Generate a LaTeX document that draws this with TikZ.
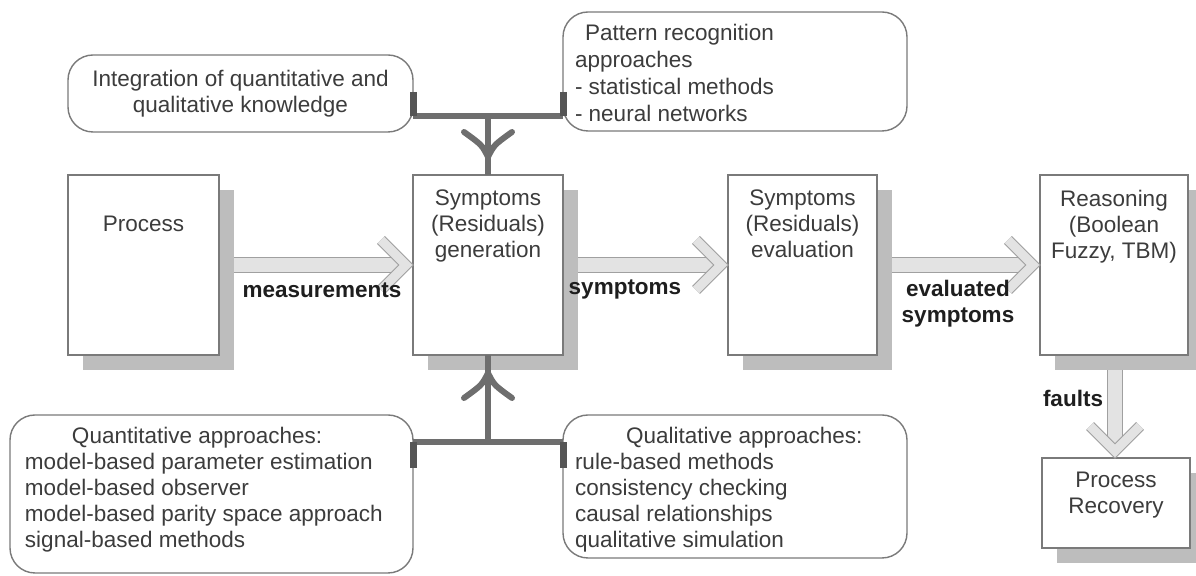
\documentclass[tikz,border=0pt]{standalone}
\usepackage{fontspec}
\setmainfont{Liberation Sans}
\usetikzlibrary{calc,shadows}
\definecolor{boxline}{HTML}{7A7A7A}
\definecolor{shadowc}{HTML}{BDBDBD}
\definecolor{conn}{HTML}{6E6E6E}
\definecolor{stubc}{HTML}{555555}
\definecolor{arrfill}{HTML}{E3E3E3}
\definecolor{arrline}{HTML}{A0A0A0}
\definecolor{txtc}{HTML}{3C3C3C}
\definecolor{boldc}{HTML}{1E1E1E}
\newcommand{\hollowH}[2]{%
  \draw[shaftline] (#1) -- ([xshift=-5.5pt]#2);
  \draw[chevron] ([xshift=-16pt,yshift=12.5pt]#2) -- ([xshift=-3.5pt]#2) -- ([xshift=-16pt,yshift=-12.5pt]#2);
}
\newcommand{\hollowV}[2]{%
  \draw[shaftline] (#1) -- ([yshift=5.5pt]#2);
  \draw[chevron] ([xshift=-12.5pt,yshift=16pt]#2) -- ([yshift=3.5pt]#2) -- ([xshift=12.5pt,yshift=16pt]#2);
}
\begin{document}
\begin{tikzpicture}[x=0.5pt,y=-0.5pt,
  every node/.style={inner sep=0pt, outer sep=0pt, font=\fontsize{11.25pt}{13pt}\selectfont, text=txtc},
  mainbox/.style={draw=boxline, line width=0.7pt, fill=white,
     drop shadow={shadow xshift=7.5pt, shadow yshift=-7.5pt, fill=shadowc, opacity=1}},
  rbox/.style={draw=boxline, line width=0.7pt, rounded corners=12.5pt, fill=white},
  boxtext/.style={anchor=north, align=center},
  lbl/.style={font=\bfseries\fontsize{11.25pt}{13pt}\selectfont, text=boldc, align=center},
  shaftline/.style={line width=0.5pt, draw=arrline, double=arrfill, double distance=7pt},
  chevron/.style={line width=0.5pt, draw=arrline, double=arrfill, double distance=4.5pt, line join=miter},
  stub/.style={line width=3.5pt, draw=stubc},
  bar/.style={line width=2.8pt, draw=conn},
  vhead/.style={line width=3pt, draw=conn, line cap=round},
]
\useasboundingbox (0,0) rectangle (1196,576);

% main boxes
\node[mainbox, minimum width=75.5pt, minimum height=90pt] (proc) at (143.5,265) {};
\node[mainbox, minimum width=75pt, minimum height=90pt] (gen) at (488,265) {};
\node[mainbox, minimum width=74.5pt, minimum height=90pt] (eval) at (802.5,265) {};
\node[mainbox, minimum width=74pt, minimum height=90pt] (reas) at (1114,265) {};
\node[mainbox, minimum width=74pt, minimum height=45pt] (rec) at (1116,503) {};

\node[boxtext] (proct) at ([yshift=-20.5pt]proc.north) {Process};
\node[boxtext] (gent) at ([yshift=-7.5pt]gen.north) {Symptoms\\(Residuals)\\generation};
\node[boxtext] (evalt) at ([yshift=-7.5pt]eval.north) {Symptoms\\(Residuals)\\evaluation};
\node[boxtext] (reast) at ([yshift=-7.5pt]reas.north) {Reasoning\\(Boolean\\Fuzzy, TBM)};
\node[boxtext] (rect) at ([yshift=-7pt]rec.north) {Process\\Recovery};

% rounded boxes
\node[rbox, minimum width=172.5pt, minimum height=38.5pt] (integ) at (240.5,93.5) {};
\node[rbox, minimum width=172pt, minimum height=59.5pt] (patt) at (735,71.5) {};
\node[rbox, minimum width=201.5pt, minimum height=79pt] (quan) at (211.5,494) {};
\node[rbox, minimum width=172pt, minimum height=71.5pt] (qual) at (735,486.5) {};

\node[align=center] (integt) at (integ.center) {Integration of quantitative and\\qualitative knowledge};
\node[anchor=north west, align=left, font=\fontsize{11.25pt}{13.6pt}\selectfont] (pattt) at ([shift={(6pt,-6pt)}]patt.north west)
  {\hspace*{5pt}Pattern recognition\\approaches\\- statistical methods\\- neural networks};
\node[anchor=north west, align=left] (quant) at ([shift={(7.5pt,-6pt)}]quan.north west)
  {\hspace*{23.5pt}Quantitative approaches:\\model-based parameter estimation\\model-based observer\\model-based parity space approach\\signal-based methods};
\node[anchor=north west, align=left] (qualt) at ([shift={(6pt,-6pt)}]qual.north west)
  {\hspace*{25.5pt}Qualitative approaches:\\rule-based methods\\consistency checking\\causal relationships\\qualitative simulation};

% hollow arrows
\coordinate (a1s) at ([xshift=7.5pt]proc.east);
\coordinate (a1e) at (gen.west);
\coordinate (a2s) at ([xshift=7.5pt]gen.east);
\coordinate (a2e) at (eval.west);
\coordinate (a3s) at ([xshift=7.5pt]eval.east);
\coordinate (a3e) at (reas.west);
\coordinate (a4s) at ([xshift=0.5pt,yshift=-7.5pt]reas.south);
\coordinate (a4e) at (a4s |- rec.north);
\hollowH{a1s}{a1e}
\hollowH{a2s}{a2e}
\hollowH{a3s}{a3e}
\hollowV{a4s}{a4e}

\node[lbl] (l1) at (322,290) {measurements};
\node[lbl] (l2) at (625,290) {symptoms};
\node[lbl] (l3) at (958,304) {evaluated\\symptoms};
\node[lbl] (l4) at (1073,398) {faults};

% top connector
\coordinate (tl) at ([yshift=-11.25pt]integ.east);
\coordinate (tr) at (tl -| patt.west);
\coordinate (tm) at ($(tl)!0.5!(tr)$);
\coordinate (ttip) at ([yshift=9pt]tm |- gen.north);
\draw[bar] (tl) -- (tr);
\draw[stub] ([yshift=12pt]tl) -- (tl);
\draw[stub] ([yshift=12pt]tr) -- (tr);
\draw[bar] (tm) -- (tm |- gen.north);
\draw[vhead] ([xshift=-12pt,yshift=12.5pt]ttip) .. controls ([xshift=-3pt,yshift=6pt]ttip) .. (ttip)
   .. controls ([xshift=3pt,yshift=6pt]ttip) .. ([xshift=12pt,yshift=12.5pt]ttip);

% bottom connector
\coordinate (bl) at ([yshift=26pt]quan.east);
\coordinate (br) at (bl -| qual.west);
\coordinate (bm) at ($(bl)!0.5!(br)$);
\coordinate (btip) at ([yshift=-9pt]bm |- gen.south);
\draw[bar] (bl) -- (br);
\draw[stub] ([yshift=-13pt]bl) -- (bl);
\draw[stub] ([yshift=-13pt]br) -- (br);
\draw[bar] (bm) -- (bm |- gen.south);
\draw[vhead] ([xshift=-12pt,yshift=-12.5pt]btip) .. controls ([xshift=-3pt,yshift=-6pt]btip) .. (btip)
   .. controls ([xshift=3pt,yshift=-6pt]btip) .. ([xshift=12pt,yshift=-12.5pt]btip);
\end{tikzpicture}
\end{document}
